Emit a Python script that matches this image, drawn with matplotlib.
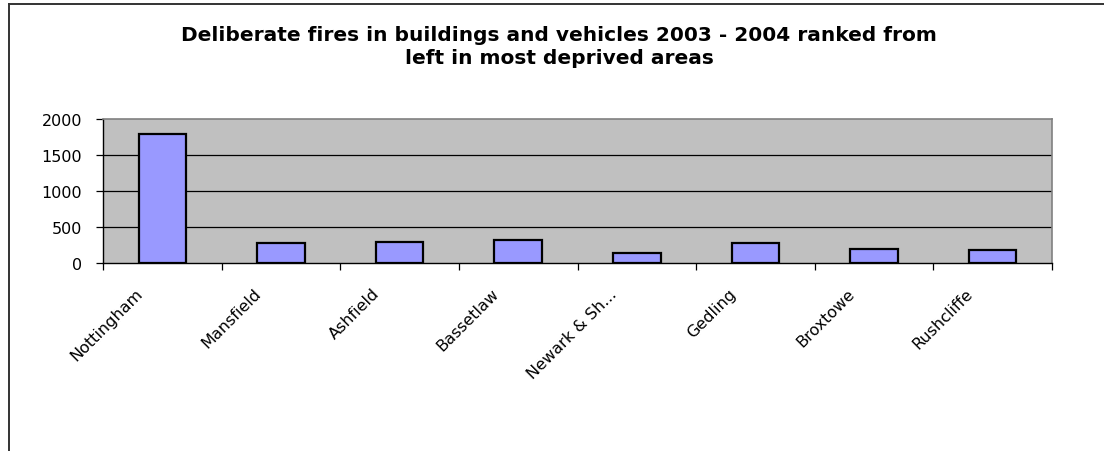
import matplotlib
matplotlib.use("Agg")
import matplotlib.pyplot as plt
import matplotlib.transforms as mtransforms
from matplotlib.lines import Line2D
import numpy as np

plt.rcParams['font.family'] = ['DejaVu Sans']

title = "Deliberate fires in buildings and vehicles 2003 - 2004 ranked from\nleft in most deprived areas"
categories = ["Nottingham", "Mansfield", "Ashfield", "Bassetlaw",
              "Newark & Sh...", "Gedling", "Broxtowe", "Rushcliffe"]
values = [1795, 278, 296, 315, 139, 278, 194, 185]
yticks = [0, 500, 1000, 1500, 2000]

W, H = 1104, 452
fig = plt.figure(figsize=(W / 100, H / 100), dpi=100)
ax = fig.add_axes([103 / W, 1 - 264 / H, (1052 - 103) / W, (264 - 120) / H])
ax.set_facecolor('#C0C0C0')

x = np.arange(len(categories))
ax.bar(x, values, width=0.4, color='#9999FF', edgecolor='black', linewidth=1.6, zorder=3)

ax.set_xlim(-0.5, len(categories) - 0.5)
ax.set_ylim(0, 2000)
ax.set_yticks(yticks)
ax.set_yticklabels([str(v) for v in yticks], fontsize=11.5)
for v in yticks[1:-1]:
    ax.axhline(v, color='black', linewidth=0.9, zorder=1)

# category boundary ticks
ax.set_xticks(np.arange(-0.5, len(categories), 1.0), minor=True)
ax.set_xticks(x)
ax.set_xticklabels(categories, fontsize=11.5, rotation=45, ha='right', va='center',
                   rotation_mode='anchor')
ax.tick_params(axis='x', which='major', length=0, pad=20)
ax.tick_params(axis='x', which='minor', length=5, width=0.9, direction='out', color='black')
ax.tick_params(axis='y', length=5, width=0.9, direction='out', pad=10, color='black')
offset = mtransforms.ScaledTranslation(-0.22, 0, fig.dpi_scale_trans)
for lbl in ax.get_xticklabels():
    lbl.set_transform(lbl.get_transform() + offset)

for side in ['top', 'right']:
    ax.spines[side].set_color('#808080')
    ax.spines[side].set_linewidth(1.2)
for side in ['left', 'bottom']:
    ax.spines[side].set_color('black')
    ax.spines[side].set_linewidth(1.0)

fig.text(559 / W, 1 - 47 / H, title, ha='center', va='center', fontsize=14.5,
         fontweight='bold', linespacing=1.25, multialignment='center')

# outer chart frame (left and top edges visible)
fig.add_artist(Line2D([8.5 / W, 8.5 / W], [0, 1 - 5 / H], transform=fig.transFigure,
                      color='#333333', linewidth=1.4))
fig.add_artist(Line2D([8.5 / W, 1], [1 - 5 / H, 1 - 5 / H], transform=fig.transFigure,
                      color='#333333', linewidth=1.4))

fig.savefig("out.png", dpi=100, facecolor='white')
